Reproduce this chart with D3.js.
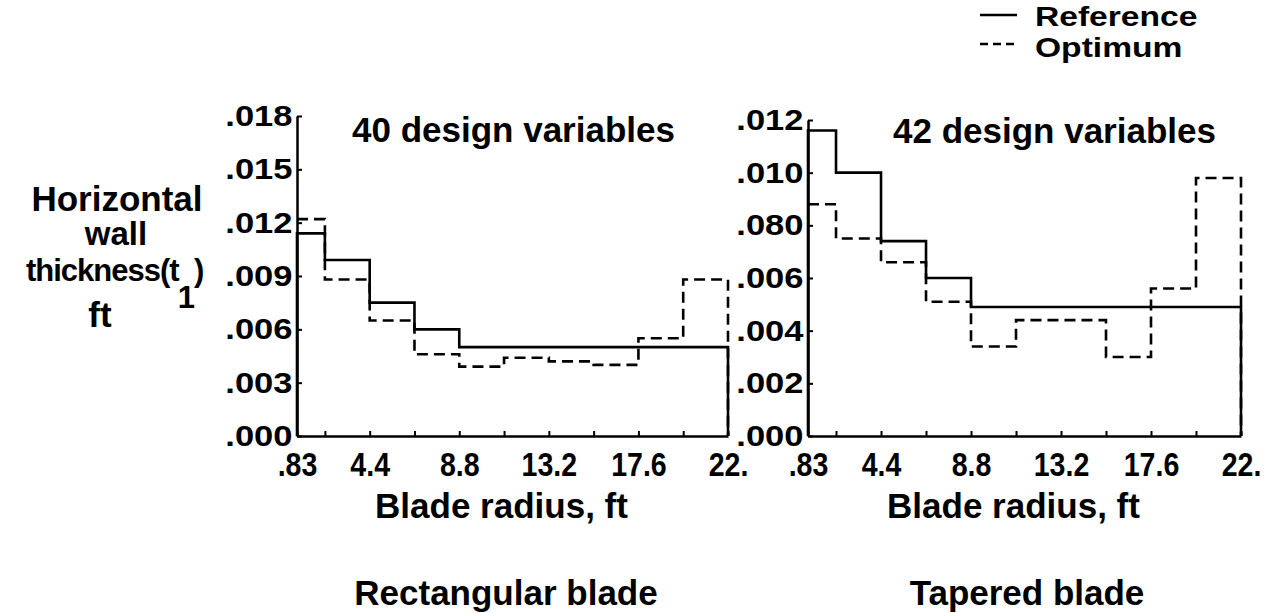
<!DOCTYPE html>
<html>
<head>
<meta charset="utf-8">
<script src="https://cdn.jsdelivr.net/npm/d3@7"></script>
<style>
  body { margin: 0; background: #fff; }
  text { font-family: "Liberation Sans", Arial, sans-serif; font-weight: bold; fill: #000; }
</style>
</head>
<body>
<div id="chart-area"></div>
<script>
/*
*    wall thickness chart
*/

// Data

var radiusEdges = [0.83, 2.2, 4.4, 6.6, 8.8, 11.0, 13.2, 15.4, 17.6, 19.8, 22.0];

var rectReference = [0.0114, 0.0099, 0.0075, 0.0060, 0.0050, 0.0050, 0.0050, 0.0050, 0.0050, 0.0050];
var rectOptimum   = [0.0122, 0.0088, 0.0065, 0.0046, 0.0039, 0.0044, 0.0042, 0.0040, 0.0055, 0.0088];

var taperReference = [0.0116, 0.0100, 0.0074, 0.0060, 0.0049, 0.0049, 0.0049, 0.0049, 0.0049, 0.0049];
var taperOptimum   = [0.0088, 0.0075, 0.0066, 0.0051, 0.0034, 0.0044, 0.0044, 0.0030, 0.0056, 0.0098];

var xLabelValues = [0.83, 4.4, 8.8, 13.2, 17.6, 22.0];
var xLabelText = [".83", "4.4", "8.8", "13.2", "17.6", "22."];

var rectYTicks = [0, 0.003, 0.006, 0.009, 0.012, 0.015, 0.018];
var rectYLabels = [".000", ".003", ".006", ".009", ".012", ".015", ".018"];

var taperYTicks = [0, 0.002, 0.004, 0.006, 0.008, 0.010, 0.012];
var taperYLabels = [".000", ".002", ".004", ".006", ".080", ".010", ".012"];

var panelTitles = ["40 design variables", "42 design variables"];
var panelCaptions = ["Rectangular blade", "Tapered blade"];
var xTitle = "Blade radius, ft";
var legendNames = ["Reference", "Optimum"];

// Canvas

var W = 1271, H = 613;

var svg = d3.select("#chart-area").append("svg")
    .attr("width", W)
    .attr("height", H);

svg.append("rect").attr("width", W).attr("height", H).attr("fill", "white");

var panels = [
    { x0: 297, x1: 728, yTop: 116, yMax: 0.018, ticks: rectYTicks, labels: rectYLabels,
      ref: rectReference, opt: rectOptimum, title: panelTitles[0], titleX: 352, titleY: 142,
      caption: panelCaptions[0], capX: 506 },
    { x0: 808, x1: 1241, yTop: 120, yMax: 0.012, ticks: taperYTicks, labels: taperYLabels,
      ref: taperReference, opt: taperOptimum, title: panelTitles[1], titleX: 893, titleY: 143,
      caption: panelCaptions[1], capX: 1027 }
];

var yBottom = 436;

panels.forEach((p) => {

    var x = d3.scaleLinear()
        .domain([radiusEdges[0], radiusEdges[radiusEdges.length - 1]])
        .range([p.x0, p.x1]);

    var y = d3.scaleLinear()
        .domain([0, p.yMax])
        .range([yBottom, p.yTop]);

    //  Y axis

    var yAxis = svg.append("g")
        .attr("transform", "translate(" + p.x0 + ",0)")
        .call(d3.axisLeft(y)
            .tickValues(p.ticks)
            .tickFormat((d, i) => p.labels[i])
            .tickSizeInner(-5)
            .tickSizeOuter(0)
            .tickPadding(4));

    yAxis.selectAll("text")
        .attr("font-size", 30)
        .attr("transform", "scale(1.15,1)");

    //  X axis

    var xAxis = svg.append("g")
        .attr("transform", "translate(0," + yBottom + ")")
        .call(d3.axisBottom(x)
            .tickValues(radiusEdges)
            .tickFormat((d) => {
                var k = xLabelValues.indexOf(d);
                return k >= 0 ? xLabelText[k] : "";
            })
            .tickSizeInner(-5)
            .tickSizeOuter(0)
            .tickPadding(16));

    xAxis.selectAll("text")
        .attr("font-size", 34)
        .attr("transform", "scale(0.84,1)");

    svg.selectAll(".domain").attr("stroke-width", 2.5);
    svg.selectAll(".tick line").attr("stroke-width", 2);
    svg.selectAll(".tick text").style("font-family", "'Liberation Sans', Arial, sans-serif").style("font-weight", "bold");

    //  step lines

    var line = d3.line()
        .x((d) => x(d[0]))
        .y((d) => y(d[1]))
        .curve(d3.curveStepAfter);

    var stepPoints = (vals) => {
        var pts = radiusEdges.map((e, i) => [e, vals[Math.min(i, vals.length - 1)]]);
        pts.push([radiusEdges[radiusEdges.length - 1], 0]);
        return pts;
    };

    svg.append("path")
        .attr("d", line(stepPoints(p.opt)))
        .attr("fill", "none")
        .attr("stroke", "black")
        .attr("stroke-width", 2.6)
        .attr("stroke-dasharray", "11,6");

    svg.append("path")
        .attr("d", line([[radiusEdges[0], 0]].concat(stepPoints(p.ref))))
        .attr("fill", "none")
        .attr("stroke", "black")
        .attr("stroke-width", 2.6);

    //  texts

    svg.append("text")
        .attr("x", p.titleX)
        .attr("y", p.titleY)
        .attr("font-size", 35)
        .text(p.title);

    svg.append("text")
        .attr("x", (p.x0 + p.x1) / 2 - 11)
        .attr("y", 518)
        .attr("text-anchor", "middle")
        .attr("font-size", 35)
        .text(xTitle);

    svg.append("text")
        .attr("x", p.capX)
        .attr("y", 605)
        .attr("text-anchor", "middle")
        .attr("font-size", 35)
        .text(p.caption);
});

// Y axis title

svg.append("text").attr("x", 117).attr("y", 211).attr("text-anchor", "middle")
    .attr("font-size", 35).text("Horizontal");

svg.append("text").attr("x", 116).attr("y", 245).attr("text-anchor", "middle")
    .attr("font-size", 33).text("wall");

var thick = svg.append("text").attr("x", 26).attr("y", 281)
    .attr("font-size", 31).attr("letter-spacing", -1);
thick.append("tspan").text("thickness(t");
thick.append("tspan").attr("dy", 27).attr("dx", -1).text("1");
thick.append("tspan").attr("dy", -27).text(")");

svg.append("text").attr("x", 100).attr("y", 327).attr("text-anchor", "middle")
    .attr("font-size", 35).text("ft");

// Legend

svg.append("line")
    .attr("x1", 980).attr("x2", 1017).attr("y1", 15).attr("y2", 15)
    .attr("stroke", "black").attr("stroke-width", 2.5);

svg.append("line")
    .attr("x1", 980).attr("x2", 1017).attr("y1", 44).attr("y2", 44)
    .attr("stroke", "black").attr("stroke-width", 2.5)
    .attr("stroke-dasharray", "8,5");

svg.append("text")
    .attr("transform", "translate(1035,26) scale(1.2,1)")
    .attr("font-size", 28)
    .text(legendNames[0]);

svg.append("text")
    .attr("transform", "translate(1035,57) scale(1.2,1)")
    .attr("font-size", 28)
    .text(legendNames[1]);

</script>
</body>
</html>
